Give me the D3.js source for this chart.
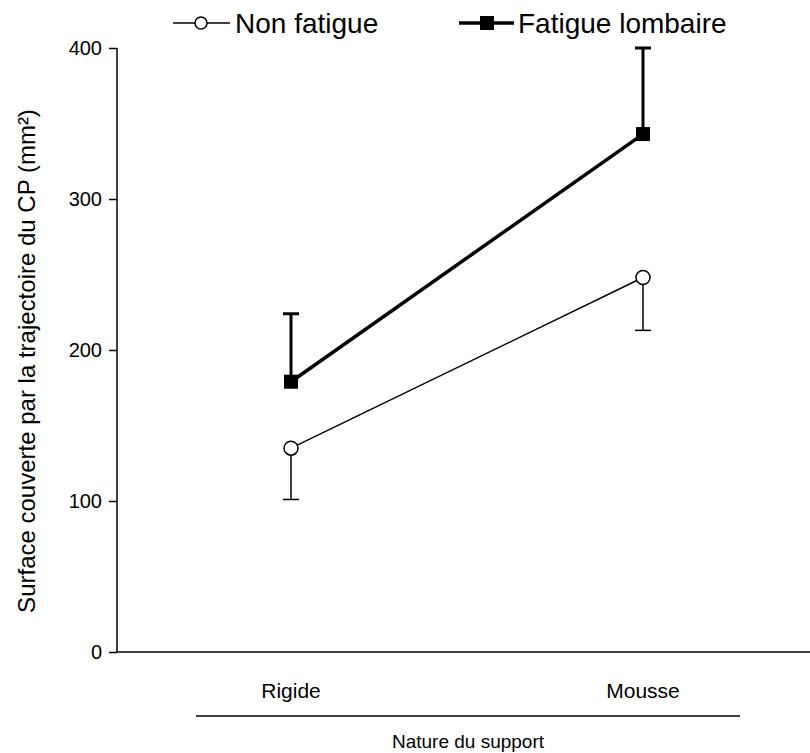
<!DOCTYPE html>
<html><head><meta charset="utf-8">
<script src="https://cdn.jsdelivr.net/npm/d3@7"></script>
<style>body{margin:0;background:#fff}svg{display:block}text{font-family:"Liberation Sans",Arial,sans-serif;fill:#000}</style>
</head><body><svg id="c" width="810" height="753"></svg>
<script>
const categories = ["Rigide", "Mousse"];
const seriesNames = ["Non fatigue", "Fatigue lombaire"];
const nonFatigue = [135, 248];
const nonFatigueErrLow = [101, 213];
const fatigue = [179, 343];
const fatigueErrHigh = [224, 400];
const yTicks = [0, 100, 200, 300, 400];
const yTitle = "Surface couverte par la trajectoire du CP (mm²)";
const xTitle = "Nature du support";

const svg = d3.select("#c");
const y = d3.scaleLinear().domain([0, 400]).range([652, 48]);
const x = d3.scalePoint().domain(categories).range([291, 643]);

// y axis
const ya = svg.append("g").attr("transform", "translate(117,0)")
  .call(d3.axisLeft(y).tickValues(yTicks).tickSize(8).tickPadding(7));
ya.select(".domain").attr("stroke", "#000").attr("stroke-width", 1.5).attr("d", `M0,${y(400)}V${y(0)}`);
ya.selectAll(".tick line").attr("stroke", "#000").attr("stroke-width", 1.5);
ya.selectAll(".tick text").style("font-size", "20px").style("font-family", '"Liberation Sans",Arial,sans-serif').attr("fill", "#000").attr("dy", "0.34em");

// x axis baseline
svg.append("line").attr("x1", 117).attr("x2", 810).attr("y1", y(0)).attr("y2", y(0))
  .attr("stroke", "#000").attr("stroke-width", 1.5);
// category labels
svg.selectAll(".cat").data(categories).enter().append("text")
  .attr("x", d => x(d)).attr("y", 698).attr("text-anchor", "middle").style("font-size", "21px").text(d => d);
// grouping line
svg.append("line").attr("x1", 196).attr("x2", 740).attr("y1", 716).attr("y2", 716)
  .attr("stroke", "#000").attr("stroke-width", 1.5);
svg.append("text").attr("x", 468).attr("y", 748).attr("text-anchor", "middle").style("font-size", "19px").text(xTitle);
// y title
svg.append("text").attr("transform", "translate(35,361) rotate(-90)").attr("text-anchor", "middle")
  .style("font-size", "24px").text(yTitle);

const line = d3.line().x((d, i) => x(categories[i])).y(d => y(d));
function errBars(vals, errs, sw) {
  vals.forEach((v, i) => {
    const cx = x(categories[i]);
    svg.append("line").attr("x1", cx).attr("x2", cx).attr("y1", y(v)).attr("y2", y(errs[i]))
      .attr("stroke", "#000").attr("stroke-width", sw);
    svg.append("line").attr("x1", cx - 8).attr("x2", cx + 8).attr("y1", y(errs[i])).attr("y2", y(errs[i]))
      .attr("stroke", "#000").attr("stroke-width", sw);
  });
}
errBars(nonFatigue, nonFatigueErrLow, 1.5);
errBars(fatigue, fatigueErrHigh, 3);

svg.append("path").datum(nonFatigue).attr("d", line).attr("fill", "none").attr("stroke", "#000").attr("stroke-width", 1.5);
svg.append("path").datum(fatigue).attr("d", line).attr("fill", "none").attr("stroke", "#000").attr("stroke-width", 3.5);

svg.selectAll(".c").data(nonFatigue).enter().append("circle")
  .attr("cx", (d, i) => x(categories[i])).attr("cy", d => y(d)).attr("r", 7)
  .attr("fill", "#fff").attr("stroke", "#000").attr("stroke-width", 1.5);
svg.selectAll(".s").data(fatigue).enter().append("rect")
  .attr("x", (d, i) => x(categories[i]) - 7).attr("y", d => y(d) - 7).attr("width", 14).attr("height", 14)
  .attr("fill", "#000");

// legend
const lg = svg.append("g");
lg.append("line").attr("x1", 173).attr("x2", 230).attr("y1", 23).attr("y2", 23).attr("stroke", "#000").attr("stroke-width", 1.5);
lg.append("circle").attr("cx", 201).attr("cy", 23).attr("r", 6).attr("fill", "#fff").attr("stroke", "#000").attr("stroke-width", 1.5);
lg.append("text").attr("x", 235).attr("y", 33).style("font-size", "28px").text(seriesNames[0]);
lg.append("line").attr("x1", 459).attr("x2", 514).attr("y1", 23).attr("y2", 23).attr("stroke", "#000").attr("stroke-width", 3.5);
lg.append("rect").attr("x", 480).attr("y", 16).attr("width", 14).attr("height", 14).attr("fill", "#000");
lg.append("text").attr("x", 518).attr("y", 33).style("font-size", "28px").text(seriesNames[1]);
</script></body></html>
